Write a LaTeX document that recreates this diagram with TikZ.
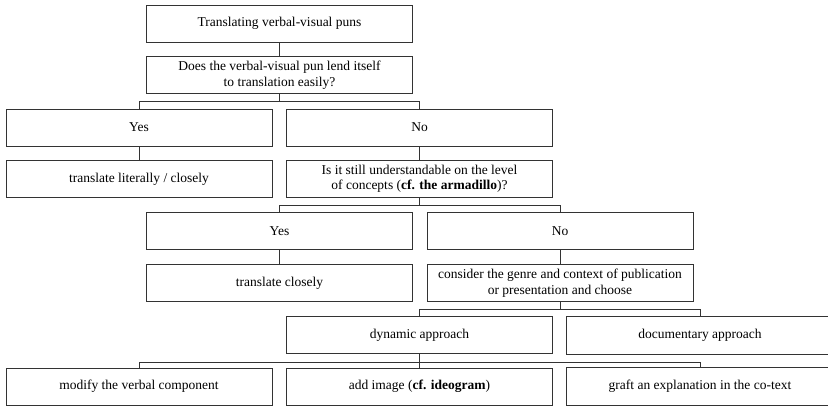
\documentclass[tikz,border=0pt]{standalone}
\usepackage{fontspec}
\setmainfont{Liberation Serif}
\begin{document}
\begin{tikzpicture}[x=1pt,y=-1pt,
  boxbase/.style={line width=0.9pt,minimum width=266pt,minimum height=37pt,inner sep=0pt,align=center,font=\fontsize{13.5}{15.5}\selectfont},
  box/.style={boxbase,draw=black!80},
  cutbox/.style={boxbase},
  link/.style={draw=black!80,line width=0.9pt}]
\useasboundingbox (0,0) rectangle (828,406);
\clip (0,0) rectangle (828,406);
\node[box] (t) at (279.5,23.5) {Translating verbal-visual puns};
\node[box] (q1) at (279.5,75) {Does the verbal-visual pun lend itself\\to translation easily?};
\node[box] (y1) at (139,127.5) {Yes};
\node[box] (n1) at (419.5,127.5) {No};
\node[box] (lit) at (139,179) {translate literally / closely};
\node[box] (q2) at (419.5,179) {Is it still understandable on the level\\of concepts (\textbf{cf. the armadillo})?};
\node[box] (y2) at (279.5,231) {Yes};
\node[box] (n2) at (560,231) {No};
\node[box] (close) at (279.5,283) {translate closely};
\node[box] (cons) at (560,283) {consider the genre and context of publication\\or presentation and choose};
\node[box] (dyn) at (419.5,335) {dynamic approach};
\node[cutbox] (doc) at (700,335) {documentary approach};
\node[box] (mod) at (139,386.5) {modify the verbal component};
\node[box] (add) at (419.5,386.5) {add image (\textbf{cf. ideogram})};
\node[cutbox] (graft) at (700,386.5) {graft an explanation in the co-text};
\draw[link] (doc.north east) -- (doc.north west) -- (doc.south west) -- (doc.south east);
\draw[link] (graft.north east) -- (graft.north west) -- (graft.south west) -- (graft.south east);
\draw[link] (t) -- (q1);
\draw[link] (q1.south) -- ++(0,8) -| (y1.north);
\draw[link] (q1.south) -- ++(0,8) -| (n1.north);
\draw[link] (y1) -- (lit);
\draw[link] (n1) -- (q2);
\draw[link] (q2.south) -- ++(0,8) -| (y2.north);
\draw[link] (q2.south) -- ++(0,8) -| (n2.north);
\draw[link] (y2) -- (close);
\draw[link] (n2) -- (cons);
\draw[link] (cons.south) -- ++(0,8) -| (dyn.north);
\draw[link] (cons.south) -- ++(0,8) -| (doc.north);
\draw[link] (dyn.south) -- ++(0,8) -| (mod.north);
\draw[link] (dyn) -- (add);
\draw[link] (dyn.south) -- ++(0,8) -| (graft.north);
\end{tikzpicture}
\end{document}
